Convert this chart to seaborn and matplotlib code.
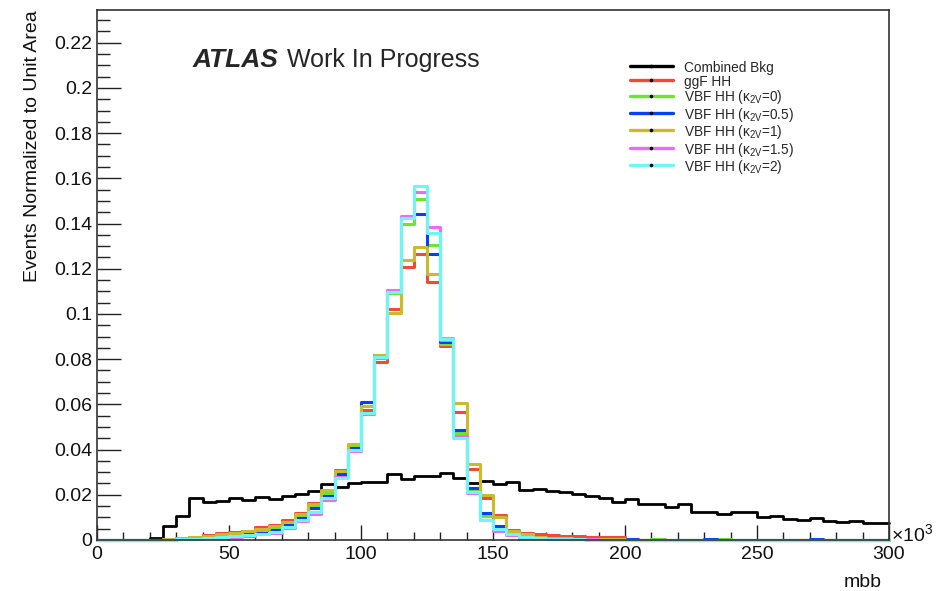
import numpy as np
import pandas as pd
import matplotlib
matplotlib.use("Agg")
import matplotlib.pyplot as plt
from matplotlib.lines import Line2D
from matplotlib.ticker import MultipleLocator, FuncFormatter
import seaborn as sns

# ---------------- data (60 bins of 5 GeV, 0-300 x10^3) ----------------
bin_edges = list(range(0, 305, 5))

bkg = [0, 0, 0, 0, 0.0010, 0.0062, 0.0105, 0.0184, 0.0167, 0.0172,
       0.0184, 0.0177, 0.0189, 0.0181, 0.0194, 0.0203, 0.0216, 0.0248, 0.0233, 0.0251,
       0.0258, 0.0258, 0.0291, 0.0269, 0.0283, 0.0283, 0.0295, 0.0273, 0.0251, 0.0263,
       0.0247, 0.0257, 0.0221, 0.0225, 0.0218, 0.0211, 0.0202, 0.0194, 0.0187, 0.0169,
       0.0180, 0.0158, 0.0158, 0.0145, 0.0159, 0.0126, 0.0126, 0.0115, 0.0123, 0.0123,
       0.0101, 0.0108, 0.0093, 0.0089, 0.0096, 0.0082, 0.0079, 0.0083, 0.0074, 0.0074]

ggf = [0, 0, 0, 0, 0, 0.0004, 0.0010, 0.0015, 0.0020, 0.0029,
       0.0035, 0.0041, 0.0056, 0.0066, 0.0089, 0.0121, 0.0165, 0.0216, 0.0310, 0.0406,
       0.0577, 0.0789, 0.1023, 0.1208, 0.1264, 0.1140, 0.0860, 0.0568, 0.0314, 0.0184,
       0.0111, 0.0044, 0.0032, 0.0026, 0.0022, 0.0018, 0.0016, 0.0015, 0.0014, 0.0013,
       0.0002, 0.0002, 0.0001, 0.0001, 0.0001, 0.0001, 0.0001, 0.0001, 0.0001, 0.0001,
       0.0001, 0.0001, 0.0001, 0.0001, 0.0001, 0.0001, 0.0001, 0.0001, 0.0001, 0.0001]

vbf_k0 = [0, 0, 0, 0, 0, 0.0002, 0.0006, 0.0010, 0.0015, 0.0020,
          0.0027, 0.0031, 0.0044, 0.0054, 0.0075, 0.0106, 0.0153, 0.0206, 0.0300, 0.0416,
          0.0592, 0.0815, 0.1092, 0.1399, 0.1510, 0.1306, 0.0868, 0.0472, 0.0216, 0.0104,
          0.0055, 0.0040, 0.0020, 0.0010, 0.0008, 0.0006, 0.0005, 0.0004, 0.0003, 0.0003,
          0.0002, 0.0002, 0.0003, 0.0002, 0.0001, 0.0001, 0.0002, 0.0003, 0.0001, 0.0001,
          0.0001, 0.0001, 0.0001, 0.0001, 0.0001, 0.0001, 0.0001, 0.0001, 0.0001, 0.0001]

vbf_k05 = [0, 0, 0, 0, 0, 0.0002, 0.0005, 0.0008, 0.0012, 0.0016,
           0.0020, 0.0025, 0.0032, 0.0045, 0.0068, 0.0099, 0.0143, 0.0196, 0.0292, 0.0408,
           0.0612, 0.0817, 0.1097, 0.1430, 0.1443, 0.1264, 0.0875, 0.0487, 0.0229, 0.0118,
           0.0060, 0.0040, 0.0018, 0.0010, 0.0007, 0.0005, 0.0004, 0.0003, 0.0003, 0.0003,
           0.0003, 0.0002, 0.0001, 0.0001, 0.0001, 0.0002, 0.0003, 0.0001, 0.0001, 0.0001,
           0.0001, 0.0001, 0.0001, 0.0002, 0.0003, 0.0001, 0.0001, 0.0001, 0.0001, 0.0001]

vbf_k1 = [0, 0, 0, 0, 0, 0.0003, 0.0008, 0.0013, 0.0018, 0.0025,
          0.0032, 0.0038, 0.0050, 0.0060, 0.0081, 0.0113, 0.0161, 0.0223, 0.0305, 0.0425,
          0.0594, 0.0817, 0.1003, 0.1238, 0.1295, 0.1178, 0.0895, 0.0604, 0.0335, 0.0199,
          0.0101, 0.0040, 0.0025, 0.0015, 0.0010, 0.0007, 0.0005, 0.0004, 0.0003, 0.0003,
          0.0002, 0.0002, 0.0001, 0.0001, 0.0001, 0.0001, 0.0001, 0.0001, 0.0001, 0.0001,
          0.0002, 0.0001, 0.0001, 0.0001, 0.0001, 0.0001, 0.0001, 0.0001, 0.0001, 0.0002]

vbf_k15 = [0, 0, 0, 0, 0, 0, 0.0003, 0.0005, 0.0008, 0.0011,
           0.0015, 0.0018, 0.0025, 0.0030, 0.0055, 0.0083, 0.0116, 0.0177, 0.0277, 0.0393,
           0.0558, 0.0805, 0.1107, 0.1434, 0.1540, 0.1386, 0.0886, 0.0458, 0.0206, 0.0089,
           0.0040, 0.0020, 0.0010, 0.0007, 0.0005, 0.0004, 0.0003, 0.0003, 0.0002, 0.0002,
           0.0001, 0.0001, 0.0001, 0.0002, 0.0001, 0.0001, 0.0002, 0.0001, 0.0001, 0.0001,
           0.0002, 0.0001, 0.0001, 0.0001, 0.0002, 0.0001, 0.0001, 0.0001, 0.0002, 0.0001]

vbf_k2 = [0, 0, 0, 0, 0, 0.0001, 0.0003, 0.0005, 0.0010, 0.0013,
          0.0018, 0.0020, 0.0026, 0.0037, 0.0059, 0.0089, 0.0126, 0.0184, 0.0273, 0.0400,
          0.0564, 0.0810, 0.1095, 0.1424, 0.1567, 0.1359, 0.0891, 0.0450, 0.0213, 0.0089,
          0.0047, 0.0026, 0.0012, 0.0009, 0.0006, 0.0004, 0.0003, 0.0002, 0.0002, 0.0001,
          0.0001, 0.0001, 0.0001, 0.0001, 0.0001, 0.0001, 0.0001, 0.0001, 0.0001, 0.0001,
          0.0001, 0.0001, 0.0001, 0.0001, 0.0001, 0.0001, 0.0001, 0.0001, 0.0001, 0.0001]

sample_names = ["Combined Bkg", "ggF HH",
                r"VBF HH (κ$_{\mathrm{2V}}$=0)", r"VBF HH (κ$_{\mathrm{2V}}$=0.5)",
                r"VBF HH (κ$_{\mathrm{2V}}$=1)", r"VBF HH (κ$_{\mathrm{2V}}$=1.5)",
                r"VBF HH (κ$_{\mathrm{2V}}$=2)"]
sample_values = [bkg, ggf, vbf_k0, vbf_k05, vbf_k1, vbf_k15, vbf_k2]
sample_colors = ["#000000", "#f24a3a", "#6fe62a", "#0a40f5", "#c9bb2a", "#ea6cf4", "#6df6f6"]

x_ticks = [0, 50, 100, 150, 200, 250, 300]

# ---------------- style ----------------
sns.set_style("white")
plt.rcParams['font.family'] = ['Liberation Sans', 'DejaVu Sans']
plt.rcParams['mathtext.fontset'] = 'custom'
plt.rcParams['mathtext.rm'] = 'Liberation Sans'
plt.rcParams['mathtext.it'] = 'Liberation Sans:italic'
plt.rcParams['mathtext.bf'] = 'Liberation Sans:bold'

fig = plt.figure(figsize=(9.41, 5.91), dpi=100)
ax = fig.add_axes([97 / 941, 51 / 591, 792 / 941, 530.5 / 591])

centers = [(bin_edges[i] + bin_edges[i + 1]) / 2 for i in range(len(bin_edges) - 1)]
for name, vals, col in zip(sample_names, sample_values, sample_colors):
    df = pd.DataFrame({"mbb": centers, "w": vals})
    lw = 2.0 if name == "Combined Bkg" else 2.2
    sns.histplot(data=df, x="mbb", weights="w", bins=bin_edges, element="step",
                 fill=False, color=col, linewidth=lw, ax=ax, clip_on=False)

ax.set_xlim(0, 300)
ax.set_ylim(0, 0.2347)
ax.set_xlabel("")
ax.set_ylabel("")

ax.set_xticks(x_ticks)
ax.xaxis.set_minor_locator(MultipleLocator(10))
ax.yaxis.set_major_locator(MultipleLocator(0.02))
ax.yaxis.set_minor_locator(MultipleLocator(0.005))
ax.yaxis.set_major_formatter(FuncFormatter(lambda v, p: f"{v:g}" if abs(v) > 1e-9 else "0"))
ax.xaxis.set_major_formatter(FuncFormatter(lambda v, p: f"{v:g}"))

ax.tick_params(axis='both', which='both', direction='in', top=False, right=False,
               bottom=True, left=True,
               color='#222222', width=1.0, labelsize=14, labelcolor='#111111')
ax.tick_params(axis='x', which='major', length=11, pad=4)
ax.tick_params(axis='x', which='minor', length=5.5)
ax.tick_params(axis='y', which='major', length=17, pad=3.5)
ax.tick_params(axis='y', which='minor', length=9)

for sp in ax.spines.values():
    sp.set_color('#333333')
    sp.set_linewidth(1.2)
    sp.set_visible(True)

# labels
fig.text(33 / 941, (591 - 10) / 591, "Events Normalized to Unit Area", rotation=90,
         ha='center', va='top', fontsize=14, color='#111111')
fig.text(882 / 941, 4 / 591, "mbb", ha='right', va='baseline', fontsize=14, color='#111111')
fig.text(891 / 941, (591 - 541) / 591, r"×10$^{\mathrm{3}}$", ha='left', va='baseline',
         fontsize=14, color='#111111')

fig.text(193 / 941, (591 - 67) / 591, "ATLAS", fontsize=19, fontweight='bold',
         fontstyle='italic', va='baseline', ha='left')
fig.text(287 / 941, (591 - 67) / 591, "Work In Progress", fontsize=18,
         va='baseline', ha='left')

handles = [Line2D([], [], color=c, lw=2.4, marker='o', markersize=1.6,
                  markerfacecolor='k', markeredgecolor='k') for c in sample_colors]
ax.legend(handles, sample_names, loc='upper left', bbox_to_anchor=(630 / 941, 531 / 591),
          bbox_transform=fig.transFigure, frameon=False, fontsize=9.8,
          handlelength=3.15, handleheight=1.25, handletextpad=0.8, labelspacing=-0.04,
          borderpad=0, borderaxespad=0, numpoints=1)

fig.savefig("out.png", dpi=100)
